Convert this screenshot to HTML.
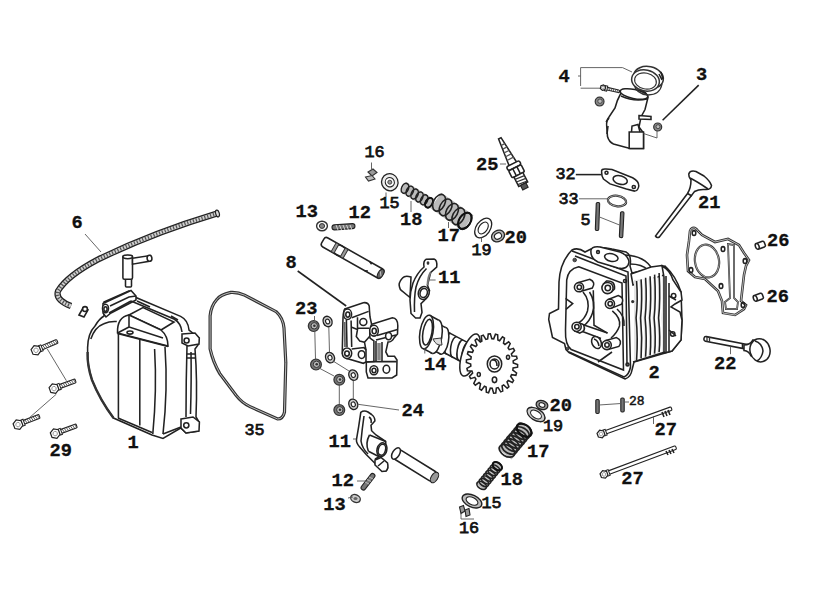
<!DOCTYPE html>
<html><head><meta charset="utf-8">
<style>
html,body{margin:0;padding:0;background:#fff;}
svg{display:block;}
text{font-family:"Liberation Mono",monospace;font-weight:bold;font-size:18.7px;fill:#111;stroke:#111;stroke-width:0.3;}
.l{stroke:#222;stroke-width:1.55;fill:none;}
.f{stroke:#222;stroke-width:1.55;fill:#fff;}
.t{stroke:#555;stroke-width:0.9;fill:none;}
text.r{font-weight:normal;font-size:16.8px;stroke-width:0.75;}
.d{stroke:#222;stroke-width:1.1;fill:#777;}
</style></head><body>
<svg width="823" height="600" viewBox="0 0 823 600">
<path d="M217,213.5 Q152,233 97,260 Q67,276 58,291 Q55,300 71,306" fill="none" stroke="#222" stroke-width="6.2"/>
<path d="M217,213.5 Q152,233 97,260 Q67,276 58,291 Q55,300 71,306" fill="none" stroke="#d0d0d0" stroke-width="3.6"/>
<path d="M217,213.5 Q152,233 97,260 Q67,276 58,291 Q55,300 71,306" fill="none" stroke="#555" stroke-width="3.6" stroke-dasharray="1.2 1.8"/>
<ellipse cx="217.5" cy="213.5" rx="1.8" ry="3.5" transform="rotate(-16 217.5 213.5)" fill="#ddd" stroke="#222" stroke-width="1.1"/>
<line x1="85" y1="234" x2="101" y2="252" class="t" stroke="#222"/>
<rect x="125.5" y="278" width="6" height="9" class="f" rx="1"/>
<rect x="122.9" y="255.5" width="9.6" height="23.7" rx="1.5" class="f"/>
<ellipse cx="127.7" cy="256.8" rx="4.8" ry="1.9" class="f"/>
<path d="M132.5,258.3 L150,255.6 L150.5,261 L132.5,264.2 Z" class="f"/>
<ellipse cx="149.5" cy="258.3" rx="2.4" ry="3" transform="rotate(-8 149.5 258.3)" class="f"/>
<path d="M79,315 L83,308 L88,310 L84,317 Z" class="f"/>
<circle cx="85" cy="309" r="2.4" class="f"/>
<path d="M104,302 L129,291 L136,297.5 L180.6,316.4 Q188,320 189,330 L199,338 L198,345 L195,349 Q197.5,380 196,417 L199,422 L198,431 L186,433 L180.7,428 L163,438.4 L152,435 L113.5,418 Q100,400 92,380 Q87,365 87.6,347.6 Q88,333 95,326 Q99,319 104,316 Z" class="f" stroke-width="1.7"/>
<path d="M87.6,352 Q87,365 92,380 Q100,400 113.5,418" fill="none" stroke="#333" stroke-width="2.4"/>
<path d="M90.8,339 Q95,327 103.8,323.8 Q110,321 116.8,321.6" class="l" stroke-width="1.2"/>
<path d="M103,303.5 L131,290.5 L136,296 L136,300 L111,313 L106,317 L103,313 Z" class="f"/>
<path d="M110,306 L129,297 L136,296 M109,313 L131,301" class="l"/>
<ellipse cx="105.5" cy="308.5" rx="3" ry="4.2" class="f"/>
<ellipse cx="105.5" cy="309" rx="1.6" ry="2.3" class="l" stroke-width="0.9"/>
<path d="M129,315 L143,307.5 L174,322 L161,330 Z" class="f"/>
<path d="M131,301 L174,319 Q181,323 182,332" class="l"/>
<path d="M137,301 L150,307" class="l" stroke-width="0.9"/>
<path d="M171,316 L178,320" class="l" stroke-width="0.9"/>
<path d="M117.5,333 Q117,317 129,315 L161,330 Q168,336 168,346 Z" class="f"/>
<path d="M129,315 L129,327 L163,338" class="l"/>
<line x1="117.5" y1="333" x2="129" y2="327" class="l"/>
<line x1="117.5" y1="333.5" x2="168" y2="346.5" class="l" stroke-width="1.4"/>
<ellipse cx="130" cy="332.5" rx="3" ry="1.6" class="f"/>
<line x1="118.4" y1="334" x2="118.4" y2="418" class="l" stroke-width="2"/>
<line x1="139.8" y1="340" x2="139.8" y2="425.5" class="l" stroke-width="2"/>
<path d="M154.6,349 Q157,390 152.8,434" class="l"/>
<path d="M165,347 Q168,390 163,434" class="l"/>
<path d="M187,346 Q186,380 186,417" class="l"/>
<path d="M191,352 Q191.5,380 190.5,414" class="l" stroke-width="0.9"/>
<path d="M187,354 L195,354 M187,358 L195,358" class="l" stroke-width="0.9"/>
<line x1="118" y1="418" x2="152" y2="432.5" class="l" stroke-width="0.9"/>
<path d="M182,334 L195,333 L199.3,338 L199,344 L188,346 L182,343 Z" class="f"/>
<circle cx="186.6" cy="340.5" r="2.5" class="f"/>
<path d="M181,419 L193,417 L199.4,422 L199,431 L186,433 L181,428 Z" class="f"/>
<circle cx="186.3" cy="425.3" r="2.6" class="f"/>
<line x1="163" y1="434" x2="181" y2="427" class="l"/>
<g transform="translate(36.0,350.3) rotate(-22.81)">
<rect x="0" y="-2.0" width="23.2" height="4.0" rx="1" fill="#fff" stroke="#222" stroke-width="1.1"/>
<line x1="8.0" y1="-2.0" x2="9.2" y2="2.0" stroke="#444" stroke-width="0.8"/>
<line x1="10.2" y1="-2.0" x2="11.4" y2="2.0" stroke="#444" stroke-width="0.8"/>
<line x1="12.4" y1="-2.0" x2="13.6" y2="2.0" stroke="#444" stroke-width="0.8"/>
<line x1="14.6" y1="-2.0" x2="15.8" y2="2.0" stroke="#444" stroke-width="0.8"/>
<line x1="16.8" y1="-2.0" x2="18.0" y2="2.0" stroke="#444" stroke-width="0.8"/>
<line x1="19.0" y1="-2.0" x2="20.2" y2="2.0" stroke="#444" stroke-width="0.8"/>
<line x1="21.2" y1="-2.0" x2="22.4" y2="2.0" stroke="#444" stroke-width="0.8"/>
<rect x="4.0" y="-3.2" width="2.5" height="6.4" fill="#fff" stroke="#222" stroke-width="1"/>
<polygon points="4.3,2.5 0.0,5.0 -4.3,2.5 -4.3,-2.5 -0.0,-5.0 4.3,-2.5" fill="#fff" stroke="#222" stroke-width="1.2"/>
<circle cx="0" cy="0" r="2.2" fill="none" stroke="#888" stroke-width="0.8"/>
</g>
<g transform="translate(54.0,388.6) rotate(-20.18)">
<rect x="0" y="-2.0" width="22.9" height="4.0" rx="1" fill="#fff" stroke="#222" stroke-width="1.1"/>
<line x1="8.0" y1="-2.0" x2="9.2" y2="2.0" stroke="#444" stroke-width="0.8"/>
<line x1="10.2" y1="-2.0" x2="11.4" y2="2.0" stroke="#444" stroke-width="0.8"/>
<line x1="12.4" y1="-2.0" x2="13.6" y2="2.0" stroke="#444" stroke-width="0.8"/>
<line x1="14.6" y1="-2.0" x2="15.8" y2="2.0" stroke="#444" stroke-width="0.8"/>
<line x1="16.8" y1="-2.0" x2="18.0" y2="2.0" stroke="#444" stroke-width="0.8"/>
<line x1="19.0" y1="-2.0" x2="20.2" y2="2.0" stroke="#444" stroke-width="0.8"/>
<line x1="21.2" y1="-2.0" x2="22.4" y2="2.0" stroke="#444" stroke-width="0.8"/>
<rect x="4.0" y="-3.2" width="2.5" height="6.4" fill="#fff" stroke="#222" stroke-width="1"/>
<polygon points="4.3,2.5 0.0,5.0 -4.3,2.5 -4.3,-2.5 -0.0,-5.0 4.3,-2.5" fill="#fff" stroke="#222" stroke-width="1.2"/>
<circle cx="0" cy="0" r="2.2" fill="none" stroke="#888" stroke-width="0.8"/>
</g>
<g transform="translate(18.0,424.6) rotate(-21.20)">
<rect x="0" y="-2.0" width="23.0" height="4.0" rx="1" fill="#fff" stroke="#222" stroke-width="1.1"/>
<line x1="8.0" y1="-2.0" x2="9.2" y2="2.0" stroke="#444" stroke-width="0.8"/>
<line x1="10.2" y1="-2.0" x2="11.4" y2="2.0" stroke="#444" stroke-width="0.8"/>
<line x1="12.4" y1="-2.0" x2="13.6" y2="2.0" stroke="#444" stroke-width="0.8"/>
<line x1="14.6" y1="-2.0" x2="15.8" y2="2.0" stroke="#444" stroke-width="0.8"/>
<line x1="16.8" y1="-2.0" x2="18.0" y2="2.0" stroke="#444" stroke-width="0.8"/>
<line x1="19.0" y1="-2.0" x2="20.2" y2="2.0" stroke="#444" stroke-width="0.8"/>
<line x1="21.2" y1="-2.0" x2="22.4" y2="2.0" stroke="#444" stroke-width="0.8"/>
<rect x="4.0" y="-3.2" width="2.5" height="6.4" fill="#fff" stroke="#222" stroke-width="1"/>
<polygon points="4.3,2.5 0.0,5.0 -4.3,2.5 -4.3,-2.5 -0.0,-5.0 4.3,-2.5" fill="#fff" stroke="#222" stroke-width="1.2"/>
<circle cx="0" cy="0" r="2.2" fill="none" stroke="#888" stroke-width="0.8"/>
</g>
<g transform="translate(55.2,433.6) rotate(-20.26)">
<rect x="0" y="-2.0" width="22.8" height="4.0" rx="1" fill="#fff" stroke="#222" stroke-width="1.1"/>
<line x1="8.0" y1="-2.0" x2="9.2" y2="2.0" stroke="#444" stroke-width="0.8"/>
<line x1="10.2" y1="-2.0" x2="11.4" y2="2.0" stroke="#444" stroke-width="0.8"/>
<line x1="12.4" y1="-2.0" x2="13.6" y2="2.0" stroke="#444" stroke-width="0.8"/>
<line x1="14.6" y1="-2.0" x2="15.8" y2="2.0" stroke="#444" stroke-width="0.8"/>
<line x1="16.8" y1="-2.0" x2="18.0" y2="2.0" stroke="#444" stroke-width="0.8"/>
<line x1="19.0" y1="-2.0" x2="20.2" y2="2.0" stroke="#444" stroke-width="0.8"/>
<line x1="21.2" y1="-2.0" x2="22.4" y2="2.0" stroke="#444" stroke-width="0.8"/>
<rect x="4.0" y="-3.2" width="2.5" height="6.4" fill="#fff" stroke="#222" stroke-width="1"/>
<polygon points="4.3,2.5 0.0,5.0 -4.3,2.5 -4.3,-2.5 -0.0,-5.0 4.3,-2.5" fill="#fff" stroke="#222" stroke-width="1.2"/>
<circle cx="0" cy="0" r="2.2" fill="none" stroke="#888" stroke-width="0.8"/>
</g>
<line x1="47.3" y1="349" x2="66.4" y2="380.7" class="t" stroke="#888"/>
<line x1="56.3" y1="394.2" x2="29.3" y2="417.8" class="t" stroke="#888"/>
<path d="M230.8,292.4 Q220,295 217,299.3 Q211,306 210.1,315.8 L210.1,348.8 Q213,362 219.8,373.6 L236.3,395.6 Q242,403 250,406.6 L277.6,419 Q283,419 284.5,412.1 L285.8,362.6 L284,328 Q283,318 276.2,311.7 L244.5,295.1 Q238,292 230.8,292.4 Z" fill="none" stroke="#333" stroke-width="3.2"/>
<path d="M230.8,292.4 Q220,295 217,299.3 Q211,306 210.1,315.8 L210.1,348.8 Q213,362 219.8,373.6 L236.3,395.6 Q242,403 250,406.6 L277.6,419 Q283,419 284.5,412.1 L285.8,362.6 L284,328 Q283,318 276.2,311.7 L244.5,295.1 Q238,292 230.8,292.4 Z" fill="none" stroke="#bbb" stroke-width="1"/>
<path d="M344.7,309 L363.3,302.7 Q368,302 369.2,306 L369.5,311 L370,317 L372,326 L370,336 L364.5,342.3 L366,350 L366,362 L363.3,363.3 L347,358.6 Q342,356 342.3,351 L342.9,321.3 Q343,312 344.7,309 Z" class="f" stroke-width="1.3"/>
<path d="M351.7,317.8 L368.6,311.4" class="l"/>
<path d="M357.5,317.2 L357.5,328.3 L369.2,328.3" class="l" stroke-width="1"/>
<ellipse cx="363.3" cy="321.9" rx="3.5" ry="3.5" class="f"/>
<ellipse cx="347.6" cy="314.3" rx="4" ry="5.2" class="f"/>
<ellipse cx="347.8" cy="314.6" rx="2" ry="2.6" class="l" stroke-width="0.9"/>
<path d="M346.4,320 L347,347 M351.1,320.5 L351.7,347" class="l" stroke-width="1"/>
<path d="M344.7,322 L345,347" stroke="#666" stroke-width="1.8"/>
<path d="M351.7,327.2 L357.5,329.5 L356.3,336.5 L359.8,341.1 L364.5,342.3" class="l"/>
<path d="M351.7,349 L364,347.5 L366,350" class="l" stroke-width="1"/>
<ellipse cx="347" cy="353.3" rx="4.7" ry="5.3" class="f"/>
<ellipse cx="347" cy="353.5" rx="2.3" ry="2.6" class="l" stroke-width="0.9"/>
<ellipse cx="361.6" cy="354.6" rx="3.3" ry="3.9" class="f"/>
<path d="M371.8,324.2 L392.4,317.7 Q397.8,318 397.8,325.8 L397.5,334 L394,338 Q392,342 388,342.1 L385.8,351.9 L388,356.2 L394.5,356.2 L397,360 L396.7,375 L392,377.9 L368,377.9 L366.3,372 L366.3,362 L373.9,361.6 L373.9,341 L370,338 Q369,328 371.8,324.2 Z" class="f" stroke-width="1.3"/>
<path d="M377,335.5 L397.5,329.5" class="l"/>
<path d="M376,340 L396,335" class="l" stroke-width="0.9"/>
<ellipse cx="388.6" cy="336.1" rx="3" ry="3.6" class="f"/>
<ellipse cx="374" cy="330.7" rx="4.3" ry="5.4" class="f"/>
<ellipse cx="374.2" cy="331" rx="2.1" ry="2.7" class="l" stroke-width="0.9"/>
<path d="M376,341 L376,361.6 M382,342 L382,361.6" class="l" stroke-width="1"/>
<path d="M379,343 L379,360" stroke="#888" stroke-width="3.5"/>
<path d="M366.3,362 L373.9,361.6 L396.7,361.6" class="l" stroke-width="1"/>
<ellipse cx="373.9" cy="370.3" rx="4" ry="4.5" class="f"/>
<ellipse cx="374" cy="370.5" rx="2" ry="2.2" class="l" stroke-width="0.9"/>
<ellipse cx="386.4" cy="369.2" rx="3.3" ry="4" class="f"/>
<line x1="297.7" y1="271" x2="346.2" y2="306" class="l" stroke-width="1.1"/>
<circle cx="313.7" cy="326.1" r="5.4" fill="#777" stroke="#333" stroke-width="1.2"/><circle cx="314.2" cy="325.8" r="3.2" fill="#bbb" stroke="#333" stroke-width="1"/><circle cx="314.4" cy="325.8" r="1.3" fill="#333"/>
<circle cx="316" cy="364.6" r="5.4" fill="#777" stroke="#333" stroke-width="1.2"/><circle cx="316.5" cy="364.3" r="3.2" fill="#bbb" stroke="#333" stroke-width="1"/><circle cx="316.7" cy="364.3" r="1.3" fill="#333"/>
<circle cx="339.3" cy="379.8" r="5.4" fill="#777" stroke="#333" stroke-width="1.2"/><circle cx="339.8" cy="379.5" r="3.2" fill="#bbb" stroke="#333" stroke-width="1"/><circle cx="340.0" cy="379.5" r="1.3" fill="#333"/>
<circle cx="339.3" cy="410.1" r="5.4" fill="#777" stroke="#333" stroke-width="1.2"/><circle cx="339.8" cy="409.8" r="3.2" fill="#bbb" stroke="#333" stroke-width="1"/><circle cx="340.0" cy="409.8" r="1.3" fill="#333"/>
<g transform="translate(327.6,321.5) rotate(-25)"><ellipse rx="4.4" ry="5.4" fill="#ccc" stroke="#222" stroke-width="1.3"/><ellipse rx="2.0" ry="2.4" fill="#fff" stroke="#222" stroke-width="1.1"/></g>
<g transform="translate(330,357.6) rotate(-25)"><ellipse rx="4.4" ry="5.4" fill="#ccc" stroke="#222" stroke-width="1.3"/><ellipse rx="2.0" ry="2.4" fill="#fff" stroke="#222" stroke-width="1.1"/></g>
<g transform="translate(353.3,375.1) rotate(-25)"><ellipse rx="4.4" ry="5.4" fill="#ccc" stroke="#222" stroke-width="1.3"/><ellipse rx="2.0" ry="2.4" fill="#fff" stroke="#222" stroke-width="1.1"/></g>
<g transform="translate(353.3,404.3) rotate(-25)"><ellipse rx="4.4" ry="5.4" fill="#ccc" stroke="#222" stroke-width="1.3"/><ellipse rx="2.0" ry="2.4" fill="#fff" stroke="#222" stroke-width="1.1"/></g>
<path d="M314.8,331.5 L315.5,359 M328.8,327 L329.5,352.5 M319,368 L334,376 M333,361 L349,371 M339.3,385 L339.3,404.5 M353.3,380.5 L353.3,399" class="t"/>
<line x1="358" y1="404.3" x2="399" y2="410" class="t" stroke="#333"/>
<line x1="314.5" y1="316" x2="314.5" y2="321" class="t"/>
<g transform="translate(324.5,242) rotate(29.5)"><rect x="-2" y="-5.2" width="68.5" height="10.4" rx="3" class="f"/><rect x="10.5" y="-5" width="3.2" height="10" fill="#999" stroke="#333" stroke-width="1"/><rect x="21" y="-5" width="3.2" height="10" fill="#999" stroke="#333" stroke-width="1"/><path d="M13.7,-4.6 Q17,-5.8 21,-4.6 M13.7,4.6 Q17,5.8 21,4.6" class="l" stroke-width="0.9"/><path d="M49,-5.2 L52,-3.8 M49,5.2 L52,3.8" class="l" stroke-width="1"/><ellipse cx="64.5" cy="0" rx="2.6" ry="5" fill="#666" stroke="#222" stroke-width="1.1"/><path d="M63,-2 L66,2" stroke="#ccc" stroke-width="0.8"/></g>
<path d="M411,277 Q405,275 402.5,278 Q398,283 399.5,287 Q400,290 402,291 L410,297.5 Z" class="f"/>
<path d="M424,267 Q417,273 413,283 Q410,292 410,300 L411,313.5 L415.6,318 L420,318 L422,312.4 L421,303.7 Q428,298 429.6,290.7 L427.5,285.3 L430.7,272.3 L436.7,267 Q437.5,260 434,259 L426,259.3 Q423,261 424,267 Z" class="f"/>
<path d="M426.5,268.5 Q419,276 416,287 Q414,297 414.5,312" class="l" stroke-width="0.9"/>
<path d="M430.7,272.3 Q428,276 427.5,285.3" stroke="#777" stroke-width="2" fill="none"/>
<ellipse cx="423.7" cy="293" rx="5.4" ry="6.6" transform="rotate(15 423.7 293)" class="f"/>
<ellipse cx="423.7" cy="293" rx="3.6" ry="4.6" transform="rotate(15 423.7 293)" class="l" stroke-width="1"/>
<ellipse cx="428" cy="263.1" rx="1.4" ry="1.8" fill="#333"/>
<line x1="429.6" y1="280" x2="435.6" y2="280" class="t"/>
<ellipse cx="470.6" cy="355.5" rx="4.0" ry="10.5" transform="rotate(10 470.6 355.5)" class="f" stroke-width="1.5"/>
<path d="M445.1,330.6 L472.5,345.1 L468.8,365.8 L441.5,351.3 Z" fill="#fff" stroke="none"/>
<path d="M445.1,330.6 L472.5,345.1 M441.5,351.3 L468.8,365.8" class="l" stroke-width="1.5"/>
<path d="M450.4,333.4 A4.0,10.5 10 0 0 446.8,354.1" class="l" stroke-width="1.2"/>
<path d="M456.6,336.7 A4.0,10.5 10 0 0 452.9,357.4" class="l" stroke-width="1.2"/>
<path d="M462.8,340.0 A4.0,10.5 10 0 0 459.1,360.6" class="l" stroke-width="1.2"/>
<path d="M468.1,342.8 A4.0,10.5 10 0 0 464.4,363.5" class="l" stroke-width="1.2"/>
<ellipse cx="443.3" cy="340.9" rx="5.1" ry="13.5" transform="rotate(10 443.3 340.9)" class="f" stroke-width="1.5"/>
<path d="M437.7,323.4 L445.6,327.6 L440.9,354.2 L433.0,350.0 Z" fill="#fff" stroke="none"/>
<path d="M437.7,323.4 L445.6,327.6 M433.0,350.0 L440.9,354.2" class="l" stroke-width="1.5"/>
<path d="M441.2,325.3 A5.1,13.5 10 0 0 436.5,351.9" class="l" stroke-width="1.2"/>
<ellipse cx="435.3" cy="336.7" rx="6.5" ry="17.0" transform="rotate(10 435.3 336.7)" class="f" stroke-width="1.5"/>
<path d="M429.5,315.3 L438.3,320.0 L432.4,353.4 L423.5,348.7 Z" fill="#fff" stroke="none"/>
<path d="M429.5,315.3 L438.3,320.0 M423.5,348.7 L432.4,353.4" class="l" stroke-width="1.5"/>
<ellipse cx="426.5" cy="332.0" rx="6.5" ry="17.0" transform="rotate(10 426.5 332.0)" class="f" stroke-width="1.5"/>
<ellipse cx="427.5" cy="332.0" rx="4.5" ry="13" transform="rotate(10 426.5 332.0)" class="l" stroke-width="1"/>
<path d="M433,339 Q436,346 442,345 L441,338 Z" fill="#ddd" stroke="#333" stroke-width="1"/>
<ellipse cx="470" cy="355" rx="8" ry="22" transform="rotate(18 470 355)" class="f"/>
<path transform="translate(492,363.5) rotate(-8)" d="M21.2,2.5 L25.2,4.7 L24.8,7.2 L20.3,7.4 L19.7,9.4 L23.0,12.8 L22.0,15.0 L17.8,13.8 L16.7,15.5 L19.0,19.9 L17.5,21.7 L13.7,19.1 L12.3,20.4 L13.5,25.3 L11.6,26.6 L8.6,22.8 L6.9,23.6 L6.8,28.7 L4.7,29.3 L2.7,24.7 L0.9,24.9 L-0.4,29.8 L-2.5,29.7 L-3.3,24.6 L-5.1,24.2 L-7.5,28.5 L-9.6,27.6 L-9.1,22.5 L-10.7,21.5 L-14.1,24.9 L-15.9,23.4 L-14.2,18.6 L-15.5,17.1 L-19.5,19.2 L-20.8,17.2 L-18.1,13.2 L-19.0,11.3 L-23.3,12.0 L-24.1,9.6 L-20.5,6.7 L-20.9,4.6 L-25.3,3.8 L-25.5,1.3 L-21.3,-0.4 L-21.2,-2.5 L-25.2,-4.7 L-24.8,-7.2 L-20.3,-7.4 L-19.7,-9.4 L-23.0,-12.8 L-22.0,-15.0 L-17.8,-13.8 L-16.7,-15.5 L-19.0,-19.9 L-17.5,-21.7 L-13.7,-19.1 L-12.3,-20.4 L-13.5,-25.3 L-11.6,-26.6 L-8.6,-22.8 L-6.9,-23.6 L-6.8,-28.7 L-4.7,-29.3 L-2.7,-24.7 L-0.9,-24.9 L0.4,-29.8 L2.5,-29.7 L3.3,-24.6 L5.1,-24.2 L7.5,-28.5 L9.6,-27.6 L9.1,-22.5 L10.7,-21.5 L14.1,-24.9 L15.9,-23.4 L14.2,-18.6 L15.5,-17.1 L19.5,-19.2 L20.8,-17.2 L18.1,-13.2 L19.0,-11.3 L23.3,-12.0 L24.1,-9.6 L20.5,-6.7 L20.9,-4.6 L25.3,-3.8 L25.5,-1.3 L21.3,0.4 Z" class="f"/>
<ellipse cx="494.5" cy="364" rx="7.2" ry="8" class="f"/>
<ellipse cx="494.5" cy="364" rx="4.5" ry="5" class="f"/>
<path d="M492,360 Q497,359 497,366" class="l" stroke-width="0.9"/>
<ellipse cx="508" cy="357.3" rx="1.5" ry="2" class="l"/>
<ellipse cx="478.8" cy="374.5" rx="1.5" ry="2" class="l"/>
<ellipse cx="494.5" cy="379.8" rx="2.2" ry="2.8" class="l"/>
<line x1="424.8" y1="348" x2="424.8" y2="353.5" class="t"/>
<g transform="translate(417.0,195.5) rotate(31.0)">
<rect x="-16.5" y="-5.8" width="32.9" height="11.5" fill="#bbb" stroke="none"/>
<ellipse cx="-14.0" cy="0" rx="3.4" ry="5.2" transform="rotate(-8 -14.0 0)" fill="none" stroke="#222" stroke-width="1.5"/>
<ellipse cx="-8.4" cy="0" rx="3.4" ry="5.2" transform="rotate(-8 -8.4 0)" fill="none" stroke="#222" stroke-width="1.5"/>
<ellipse cx="-2.8" cy="0" rx="3.4" ry="5.2" transform="rotate(-8 -2.8 0)" fill="none" stroke="#222" stroke-width="1.5"/>
<ellipse cx="2.8" cy="0" rx="3.4" ry="5.2" transform="rotate(-8 2.8 0)" fill="none" stroke="#222" stroke-width="1.5"/>
<ellipse cx="8.4" cy="0" rx="3.4" ry="5.2" transform="rotate(-8 8.4 0)" fill="none" stroke="#222" stroke-width="1.5"/>
<ellipse cx="14.0" cy="0" rx="3.4" ry="5.2" transform="rotate(-8 14.0 0)" fill="none" stroke="#222" stroke-width="1.5"/>
<ellipse cx="14.0" cy="0" rx="3.4" ry="5.2" fill="none" stroke="#111" stroke-width="1.9"/>
</g>
<g transform="translate(452.0,211.8) rotate(35.0)">
<rect x="-19.7" y="-9.5" width="39.3" height="19.0" fill="#bbb" stroke="none"/>
<ellipse cx="-15.7" cy="0" rx="5.7" ry="8.9" transform="rotate(-8 -15.7 0)" fill="none" stroke="#222" stroke-width="1.6"/>
<ellipse cx="-7.8" cy="0" rx="5.7" ry="8.9" transform="rotate(-8 -7.8 0)" fill="none" stroke="#222" stroke-width="1.6"/>
<ellipse cx="0.0" cy="0" rx="5.7" ry="8.9" transform="rotate(-8 0.0 0)" fill="none" stroke="#222" stroke-width="1.6"/>
<ellipse cx="7.8" cy="0" rx="5.7" ry="8.9" transform="rotate(-8 7.8 0)" fill="none" stroke="#222" stroke-width="1.6"/>
<ellipse cx="15.7" cy="0" rx="5.7" ry="8.9" transform="rotate(-8 15.7 0)" fill="none" stroke="#222" stroke-width="1.6"/>
<ellipse cx="15.7" cy="0" rx="5.7" ry="8.9" fill="none" stroke="#111" stroke-width="2.0"/>
</g>
<g transform="translate(389.8,182.2) rotate(-20)"><ellipse rx="8.2" ry="8.6" fill="#eee" stroke="#222" stroke-width="1.3"/><ellipse rx="4.5" ry="4.7" fill="#fff" stroke="#222" stroke-width="1.1"/></g>
<circle cx="389.8" cy="182.2" r="2" fill="#999" stroke="#444" stroke-width="1"/>
<g transform="translate(483.2,228) rotate(-55)"><ellipse rx="11" ry="7" fill="#fff" stroke="#222" stroke-width="1.3"/><ellipse rx="6.6" ry="4.2" fill="#fff" stroke="#222" stroke-width="1.1"/></g>
<g transform="translate(498,236) rotate(-30)"><ellipse rx="6.8" ry="5.5" fill="#bbb" stroke="#222" stroke-width="1.3"/><ellipse rx="3.7" ry="3.0" fill="#fff" stroke="#222" stroke-width="1.1"/></g>
<path d="M368,172 L373,169 L377,172.5 L372,176 Z" fill="#999" stroke="#333" stroke-width="1.1"/>
<path d="M365.5,177 L372,175.5 L375,179 L368.5,181 Z" fill="#bbb" stroke="#333" stroke-width="1.1"/>
<line x1="371.5" y1="162.5" x2="371.5" y2="169" class="t"/>
<line x1="386" y1="192.5" x2="386" y2="197" class="t"/>
<line x1="411" y1="201" x2="411" y2="212" class="t" stroke="#aaa" stroke-width="1.2"/>
<line x1="448.5" y1="222" x2="448.5" y2="228" class="t"/>
<line x1="481.5" y1="237.5" x2="481.5" y2="242" class="t"/>
<ellipse cx="322" cy="226" rx="5.4" ry="4.8" fill="#fff" stroke="#333" stroke-width="1.4"/><ellipse cx="322" cy="226" rx="2.6" ry="2.4" fill="#888" stroke="#333" stroke-width="1"/>
<ellipse cx="332.9" cy="227" rx="0" ry="0"/>
<rect transform="translate(332.0,227.5) rotate(-3.73)" x="0" y="-2.5" width="23.0" height="5.0" rx="2.5" class="d"/>
<path d="M336,225 L338,230 M339.5,225 L341.5,230 M343,225 L345,230 M346.5,225 L348.5,230 M350,225 L352,230" stroke="#ddd" stroke-width="0.9"/>
<g transform="translate(499.8,138.3) rotate(-27)"><path d="M-1.4,0 L1.4,0 L4.2,29 L-4.2,29 Z" class="f" stroke-width="1.2"/><path d="M-1.8,7 L2,7 M-2.3,11 L2.6,11 M-2.8,15 L3.2,15 M-3.3,19 L3.6,19 M-3.8,23 L4.1,23" stroke="#555" stroke-width="1.3"/><rect x="-7.2" y="28.5" width="14.4" height="4.5" rx="2" class="f"/><rect x="-7" y="33" width="14" height="8" rx="1.5" class="f"/><path d="M-2.3,33 L-2.3,41 M2.3,33 L2.3,41" class="l" stroke-width="0.8"/><rect x="-5" y="41" width="10" height="10.5" class="f"/><path d="M-5,43.5 L5,44.5 M-5,46.5 L5,47.5 M-5,49.5 L5,50.5" stroke="#333" stroke-width="1.2"/><rect x="-3" y="51.5" width="6" height="5" fill="#555" stroke="#222" stroke-width="1.1"/></g>
<line x1="500" y1="164" x2="506" y2="164" class="t"/>
<rect transform="translate(395.0,453.0) rotate(31.69)" x="0" y="-5.5" width="47.6" height="11.0" rx="4.0" class="f"/>
<ellipse cx="396" cy="453.5" rx="3.5" ry="6.3" transform="rotate(32 396 453.5)" class="f"/>
<ellipse cx="434.5" cy="477.5" rx="3.3" ry="5.8" transform="rotate(32 434.5 477.5)" fill="#999" stroke="#222" stroke-width="1.1"/>
<path d="M360.8,412.3 Q364,410 368,412 L371.6,414.5 Q375,417 374.9,421 L371,425.3 L371.6,430.7 L376,435 L385.7,441.5 L386,452 L379.2,456.7 L376,458.5 L386,464 Q389,468 386,471 L382,471 L374.9,463.2 L366.2,454.5 L359.7,447 Q356,443 356.5,439.4 L358.7,426.4 Z" class="f" stroke-width="1.3"/>
<path d="M364,416 Q362,430 361,441 Q362,448 368,454" class="l" stroke-width="0.9"/>
<path d="M369.5,435 L385.7,441.5 M368.4,451.3 L379.2,456.7" class="l"/>
<path d="M369.5,435 Q365,443 368.4,451.3" class="l" stroke-width="1"/>
<ellipse cx="381.9" cy="449.7" rx="4.9" ry="7" transform="rotate(15 381.9 449.7)" class="f"/>
<ellipse cx="381.9" cy="449.7" rx="3.6" ry="5.6" transform="rotate(15 381.9 449.7)" class="l" stroke-width="0.9"/>
<path d="M375,460 L381,457.5 L387.5,463 Q389,468 386,471 L382,471.5 L375,465 Z" class="f"/>
<path d="M378,466 L384,461" class="l" stroke-width="0.9"/>
<path d="M369,417 Q372,419 371,423" class="l" stroke-width="0.9"/>
<line x1="353" y1="439" x2="356" y2="439" class="t"/>
<rect transform="translate(374.0,474.0) rotate(127.75)" x="0" y="-2.3" width="19.6" height="4.6" rx="2.3" class="d"/>
<path d="M365,482 L369,484 M367,479.5 L371,481.5 M369,477 L373,479" stroke="#ccc" stroke-width="0.8"/>
<line x1="357" y1="481" x2="366" y2="481" class="t" stroke="#333"/>
<ellipse cx="355.5" cy="498.5" rx="5" ry="3.8" transform="rotate(25 355.5 498.5)" fill="#ccc" stroke="#333" stroke-width="1.3"/><ellipse cx="355.5" cy="498.5" rx="2" ry="1.5" fill="#666"/>
<line x1="348" y1="498" x2="353" y2="497" class="t"/>
<g transform="translate(542,405) rotate(20)"><ellipse rx="6" ry="4.5" fill="#999" stroke="#222" stroke-width="1.3"/><ellipse rx="3.0" ry="2.2" fill="#fff" stroke="#222" stroke-width="1.1"/></g>
<g transform="translate(536,414.5) rotate(32)"><ellipse rx="10" ry="5.8" fill="#ccc" stroke="#222" stroke-width="1.3"/><ellipse rx="6.0" ry="3.5" fill="#fff" stroke="#222" stroke-width="1.1"/></g>
<g transform="translate(515.5,440.5) rotate(-50.4)">
<rect x="-17.2" y="-9.0" width="34.4" height="18.0" fill="#bbb" stroke="none"/>
<ellipse cx="-13.4" cy="0" rx="5.4" ry="8.4" transform="rotate(-8 -13.4 0)" fill="none" stroke="#222" stroke-width="1.7"/>
<ellipse cx="-9.6" cy="0" rx="5.4" ry="8.4" transform="rotate(-8 -9.6 0)" fill="none" stroke="#222" stroke-width="1.7"/>
<ellipse cx="-5.8" cy="0" rx="5.4" ry="8.4" transform="rotate(-8 -5.8 0)" fill="none" stroke="#222" stroke-width="1.7"/>
<ellipse cx="-1.9" cy="0" rx="5.4" ry="8.4" transform="rotate(-8 -1.9 0)" fill="none" stroke="#222" stroke-width="1.7"/>
<ellipse cx="1.9" cy="0" rx="5.4" ry="8.4" transform="rotate(-8 1.9 0)" fill="none" stroke="#222" stroke-width="1.7"/>
<ellipse cx="5.8" cy="0" rx="5.4" ry="8.4" transform="rotate(-8 5.8 0)" fill="none" stroke="#222" stroke-width="1.7"/>
<ellipse cx="9.6" cy="0" rx="5.4" ry="8.4" transform="rotate(-8 9.6 0)" fill="none" stroke="#222" stroke-width="1.7"/>
<ellipse cx="13.4" cy="0" rx="5.4" ry="8.4" transform="rotate(-8 13.4 0)" fill="none" stroke="#222" stroke-width="1.7"/>
<ellipse cx="13.4" cy="0" rx="5.4" ry="8.4" fill="none" stroke="#111" stroke-width="2.1"/>
</g>
<g transform="translate(489.5,475.8) rotate(-50.8)">
<rect x="-14.8" y="-5.8" width="29.6" height="11.5" fill="#bbb" stroke="none"/>
<ellipse cx="-12.4" cy="0" rx="3.4" ry="5.2" transform="rotate(-8 -12.4 0)" fill="none" stroke="#222" stroke-width="1.6"/>
<ellipse cx="-8.8" cy="0" rx="3.4" ry="5.2" transform="rotate(-8 -8.8 0)" fill="none" stroke="#222" stroke-width="1.6"/>
<ellipse cx="-5.3" cy="0" rx="3.4" ry="5.2" transform="rotate(-8 -5.3 0)" fill="none" stroke="#222" stroke-width="1.6"/>
<ellipse cx="-1.8" cy="0" rx="3.4" ry="5.2" transform="rotate(-8 -1.8 0)" fill="none" stroke="#222" stroke-width="1.6"/>
<ellipse cx="1.8" cy="0" rx="3.4" ry="5.2" transform="rotate(-8 1.8 0)" fill="none" stroke="#222" stroke-width="1.6"/>
<ellipse cx="5.3" cy="0" rx="3.4" ry="5.2" transform="rotate(-8 5.3 0)" fill="none" stroke="#222" stroke-width="1.6"/>
<ellipse cx="8.8" cy="0" rx="3.4" ry="5.2" transform="rotate(-8 8.8 0)" fill="none" stroke="#222" stroke-width="1.6"/>
<ellipse cx="12.4" cy="0" rx="3.4" ry="5.2" transform="rotate(-8 12.4 0)" fill="none" stroke="#222" stroke-width="1.6"/>
<ellipse cx="12.4" cy="0" rx="3.4" ry="5.2" fill="none" stroke="#111" stroke-width="2.0"/>
</g>
<g transform="translate(472,501) rotate(25)"><ellipse rx="10.5" ry="6" fill="#bbb" stroke="#222" stroke-width="1.3"/><ellipse rx="6.3" ry="3.6" fill="#fff" stroke="#222" stroke-width="1.1"/></g>
<path d="M459.5,507 L463.5,505.5 L465,511 L461,513.5 Z" fill="#999" stroke="#222" stroke-width="1.1"/>
<path d="M465,510 L469,508.5 L470,515 L466,516.5 Z" fill="#999" stroke="#222" stroke-width="1.1"/>
<path d="M461,513 L461,519 L474,519" class="t"/>
<path d="M572,250 Q578,247 585,252 L591,249 Q600,246 612,249 L626,252 Q632,255 630,266 L632,273 L656,268 L665,266 Q676,276 681,292 L682,320 L681,340 L672,351 L634,362 L632,370 Q631,377 625,379 L569,352.5 L566,349.5 L564.5,343.5 L552.5,337.5 L548.7,319.5 L549.5,313.5 L558.5,309 L559,282 Q560,262 572,250 Z" class="f" stroke-width="1.4"/>
<path d="M572,251 L628,272 L630.5,367 Q629,375 624,377 L569,352" class="l" stroke-width="1.3"/>
<path d="M575,256 L626,276 L627,366" class="l" stroke-width="0.9"/>
<path d="M578.7,266.7 L622,283 L623.5,370 L571.2,349.5 Q565,345 565.5,330 L566.7,280 Q568,269 578.7,266.7 Z" class="f" stroke-width="1.2"/>
<path d="M591,250 Q590,258 598,262 L618,268 Q628,270 629,262 Q628,255 620,252 L600,247 Q592,246 591,250 Z" class="f"/>
<ellipse cx="611.3" cy="257.5" rx="6.8" ry="3.8" transform="rotate(12 611.3 257.5)" class="f"/>
<circle cx="598" cy="252" r="1.4" class="l"/>
<circle cx="574.7" cy="260" r="1.8" fill="#555" stroke="#222" stroke-width="0.8"/>
<circle cx="567.5" cy="348.7" r="1.5" fill="#555" stroke="#222" stroke-width="0.8"/>
<circle cx="627.5" cy="364.5" r="1.5" class="l"/>
<circle cx="625" cy="281" r="1.5" class="l"/>
<path d="M583,292 Q590,300 587.5,311 Q585,319 578.5,323" class="l" stroke-width="1.3"/>
<path d="M589.5,292 Q596,302 592.5,313 Q590,321 583.5,326" class="l" stroke-width="1.1"/>
<path d="M593.3,290.3 L594,325.2 L607.5,333.1" class="l" stroke-width="1.2"/>
<path d="M612.3,310.9 Q621,318 619.5,326 Q617,333 611,338" class="l" stroke-width="1.2"/>
<path d="M617,309 Q625,316 624,326" class="l" stroke-width="0.9"/>
<path d="M581,324 L607.5,333 M582.5,331.5 L601,338.5" class="l" stroke-width="1.2"/>
<ellipse cx="596.5" cy="342.5" rx="4.6" ry="6.3" transform="rotate(-25 596.5 342.5)" class="f" stroke-width="1.2"/>
<path d="M594,339 Q598,340 599,346" class="l" stroke-width="0.9"/>
<path d="M580.3,291.6 L592.3,288.1 Q596.3,282.2 589.7,279.3 L577.7,282.8 Z" class="f" stroke-width="1.2"/>
<circle cx="579" cy="287.2" r="4.6" class="f" stroke-width="1.3"/>
<circle cx="579.3" cy="287.2" r="2.2" class="l" stroke-width="1.2"/>
<path d="M611.5,292.0 L614.5,289.0 Q615.3,280.2 606.5,281.0 L603.5,284.0 Z" class="f" stroke-width="1.2"/>
<circle cx="607.5" cy="288" r="5.6" class="f" stroke-width="1.3"/>
<circle cx="607.8" cy="288.0" r="2.7" class="l" stroke-width="1.2"/>
<path d="M611.6,308.1 L621.6,304.1 Q625.0,297.7 618.2,295.5 L608.2,299.5 Z" class="f" stroke-width="1.2"/>
<circle cx="609.9" cy="303.8" r="4.6" class="f" stroke-width="1.3"/>
<circle cx="610.2" cy="303.8" r="2.2" class="l" stroke-width="1.2"/>
<path d="M574.9,331.1 L579.9,333.1 Q586.7,330.9 583.3,324.5 L578.3,322.5 Z" class="f" stroke-width="1.2"/>
<circle cx="576.6" cy="326.8" r="4.6" class="f" stroke-width="1.3"/>
<circle cx="576.9" cy="326.8" r="2.2" class="l" stroke-width="1.2"/>
<path d="M607.9,349.4 L618.9,346.4 Q623.0,340.5 616.5,337.6 L605.5,340.6 Z" class="f" stroke-width="1.2"/>
<circle cx="606.7" cy="345" r="4.6" class="f" stroke-width="1.3"/>
<circle cx="607.0" cy="345.0" r="2.2" class="l" stroke-width="1.2"/>
<path d="M565.5,298.3 L572.7,303.5 L566,309.3" class="l" stroke-width="1.2"/>
<path d="M598,362 L612,352" class="l" stroke-width="0.9"/>
<path d="M625,255 Q645,256 652,269" class="l" stroke-width="1.3"/>
<path d="M630,264 Q642,264 648,270" class="l" stroke-width="0.9"/>
<path d="M631,274 L651,267 L662,265.5 Q668,268 670,273 L646,281 L633,285 Z" class="f"/>
<path d="M634,280 L634,360 L664,352 L665,277" fill="#e4e4e4" stroke="none"/>
<path d="M638,281.0 Q639.5,300 637.5,318 Q639.5,338 638,360.0" fill="none" stroke="#fff" stroke-width="2.6"/>
<path d="M636.6,281.0 Q638.1,300 636.1,318 Q638.1,338 636.6,360.0" class="l" stroke-width="1.3"/>
<path d="M642.5,279.4 Q644.0,300 642.0,318 Q644.0,338 642.5,358.4" fill="none" stroke="#fff" stroke-width="2.6"/>
<path d="M641.1,279.4 Q642.6,300 640.6,318 Q642.6,338 641.1,358.4" class="l" stroke-width="1.3"/>
<path d="M647,277.8 Q648.5,300 646.5,318 Q648.5,338 647,356.8" fill="none" stroke="#fff" stroke-width="2.6"/>
<path d="M645.6,277.8 Q647.1,300 645.1,318 Q647.1,338 645.6,356.8" class="l" stroke-width="1.3"/>
<path d="M651.5,276.2 Q653.0,300 651.0,318 Q653.0,338 651.5,355.2" fill="none" stroke="#fff" stroke-width="2.6"/>
<path d="M650.1,276.2 Q651.6,300 649.6,318 Q651.6,338 650.1,355.2" class="l" stroke-width="1.3"/>
<path d="M656,274.6 Q657.5,300 655.5,318 Q657.5,338 656,353.6" fill="none" stroke="#fff" stroke-width="2.6"/>
<path d="M654.6,274.6 Q656.1,300 654.1,318 Q656.1,338 654.6,353.6" class="l" stroke-width="1.3"/>
<path d="M660.5,273.0 Q662.0,300 660.0,318 Q662.0,338 660.5,352.0" fill="none" stroke="#fff" stroke-width="2.6"/>
<path d="M659.1,273.0 Q660.6,300 658.6,318 Q660.6,338 659.1,352.0" class="l" stroke-width="1.3"/>
<path d="M662,266 Q670,270 673,280 L681,292 L682,300 L675,304 L671,307 L680,312 L682,320 L681,340 L672,351 L664,353 L664,277 Z" class="f"/>
<path d="M666,276 L666,352 M669,283 L669,351" class="l" stroke-width="1.0"/>
<path d="M669,296 L676,300 M669,330 L676,336" class="l" stroke-width="0.9"/>
<circle cx="673.6" cy="295.8" r="2.2" class="l"/>
<circle cx="672.7" cy="334" r="2.2" class="l"/>
<path d="M633,362 L665,352" class="l"/>
<circle cx="632.7" cy="301.6" r="1.6" fill="#333"/>
<path d="M691,229 Q695,226 698,231 L702,235 L715,242 L728,239 L739,245 L744,253 L749,260 L746,266 L744,275 L741,301 L746,305 L744,309 L735,315 L723,313 L722,301 L718,291 L705,279 L695,277 L688,271 L687,255 L689,241 L690,231 Z" fill="none" stroke="#333" stroke-width="2.6"/>
<path d="M691,229 Q695,226 698,231 L702,235 L715,242 L728,239 L739,245 L744,253 L749,260 L746,266 L744,275 L741,301 L746,305 L744,309 L735,315 L723,313 L722,301 L718,291 L705,279 L695,277 L688,271 L687,255 L689,241 L690,231 Z" fill="none" stroke="#ddd" stroke-width="0.8"/>
<ellipse cx="707" cy="261" rx="12" ry="16.5" transform="rotate(-10 707 261)" fill="none" stroke="#333" stroke-width="2.2"/>
<ellipse cx="707" cy="261" rx="12" ry="16.5" transform="rotate(-10 707 261)" fill="none" stroke="#ddd" stroke-width="0.6"/>
<ellipse cx="694" cy="233" rx="1.8" ry="2.4" class="l"/>
<ellipse cx="723" cy="249" rx="1.8" ry="2.4" class="l"/>
<ellipse cx="745" cy="261" rx="1.8" ry="2.4" class="l"/>
<ellipse cx="691" cy="270" rx="1.8" ry="2.4" class="l"/>
<ellipse cx="721" cy="286" rx="1.8" ry="2.4" class="l"/>
<ellipse cx="743" cy="305" rx="1.8" ry="2.4" class="l"/>
<path d="M728,244 L734,245 L734,298 L738,302 L737,309 L726,309 L725,302 L730,298 Z" fill="none" stroke="#333" stroke-width="1.8"/>
<path d="M728,244 L734,245 L734,298 L738,302 L737,309 L726,309 L725,302 L730,298 Z" fill="none" stroke="#ddd" stroke-width="0.5"/>
<g transform="translate(761,245) rotate(-20)"><rect x="-4" y="-3" width="8" height="6" rx="1.5" class="f"/><ellipse cx="-4" cy="0" rx="1.8" ry="3" class="f"/></g>
<g transform="translate(759,297) rotate(-20)"><rect x="-4" y="-3" width="8" height="6" rx="1.5" class="f"/><ellipse cx="-4" cy="0" rx="1.8" ry="3" class="f"/></g>
<path d="M688.75,174 Q690,170 696,171.5 L704,176 Q710,181 711.5,185.5 Q711,190 705,189.5 Q699,189 694.5,191.5 L659.4,237 Q657,238.5 655.5,236 L687.5,193.5 Q691,188 691,180 Q688.5,177 688.75,174 Z" class="f" stroke-width="1.3"/>
<path d="M690,178 Q698,182 708,189" class="l" stroke-width="1.0"/>
<path d="M687.5,193.5 L692,196" class="l" stroke-width="0.8"/>
<rect transform="translate(704.0,338.5) rotate(11.07)" x="0" y="-2.3" width="46.9" height="4.6" rx="2.0" class="f"/>
<path d="M744,345 Q750,345 753,340 L756,341 L754,357 L751,356 Q749,351 744,350.5 Z" class="f"/>
<ellipse cx="760" cy="350.3" rx="10" ry="11.7" transform="rotate(-15 760 350.3)" class="f"/>
<path d="M755,341 Q762,343 763,351 Q762,358 757,361" class="l" stroke-width="0.9"/>
<path d="M707,336.5 L707,341.5 M709.5,337 L709.5,342" stroke="#333" stroke-width="1.3"/>
<line x1="742.5" y1="343" x2="742.5" y2="348.5" class="l" stroke-width="1.1"/>
<line x1="730.5" y1="346.4" x2="730.5" y2="354.2" class="t"/>
<rect transform="translate(597.5,399.5) rotate(90.00)" x="0" y="-1.7" width="14.0" height="3.4" rx="1.2" class="d"/>
<rect transform="translate(622.5,398.0) rotate(90.00)" x="0" y="-1.7" width="14.0" height="3.4" rx="1.2" class="d"/>
<line x1="599" y1="405" x2="621" y2="403.5" class="t"/>
<line x1="624" y1="402" x2="629" y2="402" class="t" stroke="#222"/>
<g transform="translate(601.0,434.0) rotate(-19.89)">
<rect x="0" y="-1.8" width="75.0" height="3.6" rx="1" fill="#fff" stroke="#222" stroke-width="1.1"/>
<rect x="3.0" y="-3.0" width="2.5" height="6.0" fill="#fff" stroke="#222" stroke-width="1"/>
<polygon points="3.5,2.0 0.0,4.0 -3.5,2.0 -3.5,-2.0 -0.0,-4.0 3.5,-2.0" fill="#fff" stroke="#222" stroke-width="1.2"/>
<circle cx="0" cy="0" r="1.8" fill="none" stroke="#888" stroke-width="0.8"/>
</g>
<g transform="translate(604.0,474.4) rotate(-20.56)">
<rect x="0" y="-1.8" width="76.9" height="3.6" rx="1" fill="#fff" stroke="#222" stroke-width="1.1"/>
<rect x="3.0" y="-3.0" width="2.5" height="6.0" fill="#fff" stroke="#222" stroke-width="1"/>
<polygon points="3.5,2.0 0.0,4.0 -3.5,2.0 -3.5,-2.0 -0.0,-4.0 3.5,-2.0" fill="#fff" stroke="#222" stroke-width="1.2"/>
<circle cx="0" cy="0" r="1.8" fill="none" stroke="#888" stroke-width="0.8"/>
</g>
<path d="M662,412 L664,417 M665,411 L667,416 M668,410 L670,415 M666,451 L668,455 M669,450 L671,454 M672,449 L674,453" class="l" stroke-width="0.8"/>
<line x1="653.5" y1="416" x2="653.5" y2="424" class="t" stroke="#aaa"/>
<rect transform="translate(598.0,202.5) rotate(92.05)" x="0" y="-1.7" width="28.0" height="3.4" rx="1.2" class="d"/>
<rect transform="translate(622.3,211.8) rotate(92.88)" x="0" y="-1.7" width="25.8" height="3.4" rx="1.2" class="d"/>
<line x1="599.5" y1="217" x2="619.5" y2="225" class="t"/>
<path d="M601.6,172 Q601,168.5 606,169 L612,169.5 L632.6,177.7 Q639,181 638.8,186 Q638,191 634.7,191.1 L626.4,189.1 L610,183.9 L603.5,179 Q601.5,176 601.6,172 Z" class="f" stroke-width="1.4"/>
<ellipse cx="620.2" cy="180" rx="7.3" ry="4.2" transform="rotate(16 620.2 180)" class="f" stroke-width="1.3"/>
<circle cx="606.5" cy="172.8" r="1.5" class="l"/>
<circle cx="633.8" cy="187" r="1.6" class="l"/>
<line x1="575.8" y1="174.6" x2="601.6" y2="174.6" class="l"/>
<ellipse cx="617" cy="201" rx="9.2" ry="5.2" transform="rotate(8 617 201)" fill="none" stroke="#222" stroke-width="2.2"/>
<ellipse cx="617" cy="201" rx="9.2" ry="5.2" transform="rotate(8 617 201)" fill="none" stroke="#eee" stroke-width="0.6"/>
<line x1="579" y1="198.8" x2="608" y2="198.8" class="t" stroke="#333" stroke-width="1.1"/>
<path d="M580.6,86 L580.6,67.6 L622.5,67.6 L632,72 M580.6,88.2 L601.6,88.2 M578,76 L580.6,76" class="t" stroke="#444" stroke-width="1.0"/>
<path d="M621,93 Q617,100 615,108 L609,117 Q606,121 606.7,126 L607.5,136.5 Q609,142 613.5,144 L630,148.5 L643.5,148.5 L643.5,133 L639,127 L641,117 L645,109.5 L648,97.5 Q647,92 640,90 Z" class="f" stroke-width="1.3"/>
<path d="M609,118 L606,122 M608,126 L607,134" class="l" stroke-width="0.9"/>
<ellipse cx="634" cy="94" rx="14" ry="4.5" transform="rotate(12 634 94)" class="f"/>
<path d="M621,96 Q634,102 647,99" class="l" stroke-width="0.9"/>
<path d="M639,115.5 L651,116.5 L651,119.5 L639,119 Z" class="f"/>
<path d="M629.2,132 L643.5,132 L643.5,148.5 L629.2,148.5 Z" class="f"/>
<path d="M631.5,132 L632,126 L638,124.5 L640,132" class="l"/>
<path d="M643.5,133.5 L657,138 L657,130" class="t" stroke="#444" stroke-width="1"/>
<ellipse cx="648.5" cy="77.5" rx="15" ry="11" transform="rotate(12 648.5 77.5)" fill="#fff" stroke="#333" stroke-width="1.6"/>
<path d="M634,84 Q636,94 648,95 Q660,95 662,84" fill="none" stroke="#333" stroke-width="1.3"/>
<ellipse cx="645.5" cy="80.5" rx="14" ry="10.5" transform="rotate(12 645.5 80.5)" fill="#fff" stroke="#333" stroke-width="1.5"/>
<ellipse cx="645.5" cy="81" rx="11" ry="8" transform="rotate(12 645.5 81)" fill="#fff" stroke="#333" stroke-width="1.1"/>
<path d="M659,74 L662,80 M661,72 L663,79" class="l" stroke-width="0.8"/>
<g transform="translate(603.0,87.7) rotate(12.97)">
<rect x="0" y="-1.3" width="16.9" height="2.6" rx="1" fill="#fff" stroke="#222" stroke-width="1.1"/>
<line x1="5.8" y1="-1.3" x2="7.0" y2="1.3" stroke="#444" stroke-width="0.8"/>
<line x1="8.0" y1="-1.3" x2="9.2" y2="1.3" stroke="#444" stroke-width="0.8"/>
<line x1="10.2" y1="-1.3" x2="11.4" y2="1.3" stroke="#444" stroke-width="0.8"/>
<line x1="12.4" y1="-1.3" x2="13.6" y2="1.3" stroke="#444" stroke-width="0.8"/>
<line x1="14.6" y1="-1.3" x2="15.8" y2="1.3" stroke="#444" stroke-width="0.8"/>
<rect x="1.8" y="-2.5" width="2.5" height="5.0" fill="#fff" stroke="#222" stroke-width="1"/>
<polygon points="2.4,1.4 0.0,2.8 -2.4,1.4 -2.4,-1.4 -0.0,-2.8 2.4,-1.4" fill="#fff" stroke="#222" stroke-width="1.2"/>
<circle cx="0" cy="0" r="1.3" fill="none" stroke="#888" stroke-width="0.8"/>
</g>
<circle cx="599.6" cy="101.6" r="4.4" fill="#888" stroke="#333" stroke-width="1.2"/><circle cx="600" cy="101.2" r="2.2" fill="#bbb" stroke="#333" stroke-width="0.8"/>
<circle cx="657.7" cy="127" r="4" fill="#888" stroke="#333" stroke-width="1.2"/><circle cx="658" cy="126.7" r="2" fill="#bbb" stroke="#333" stroke-width="0.8"/>
<line x1="698.7" y1="85.1" x2="662.6" y2="120.2" class="l" stroke-width="1.1"/>

<!-- LABELS -->
<g id="labels" transform="translate(-0.5,-0.7)">
<text x="72" y="229">6</text>
<text x="128" y="449">1</text>
<text x="50" y="456.5">29</text>
<text class="r" x="245" y="435.7">35</text>
<text x="286" y="269">8</text>
<text x="295.5" y="315">23</text>
<text x="296" y="217.5">13</text>
<text x="349" y="218.5">12</text>
<text class="r" x="365" y="158">16</text>
<text class="r" x="380" y="208.5">15</text>
<text x="400.5" y="226">18</text>
<text x="438" y="242">17</text>
<text class="r" x="472" y="255.5">19</text>
<text x="505" y="243.5">20</text>
<text x="476.5" y="170.5">25</text>
<text x="438.5" y="283.5">11</text>
<text x="424.5" y="371">14</text>
<text x="402" y="417">24</text>
<text x="329" y="448">11</text>
<text x="332" y="487">12</text>
<text x="323.8" y="511">13</text>
<text x="550" y="411.5">20</text>
<text class="r" x="543.5" y="431.5">19</text>
<text x="527.5" y="458">17</text>
<text x="501" y="486">18</text>
<text class="r" x="482" y="509">15</text>
<text class="r" x="459.5" y="534">16</text>
<text x="559" y="83">4</text>
<text x="696.5" y="81">3</text>
<text class="r" x="556" y="179.5">32</text>
<text class="r" x="559" y="204.5">33</text>
<text class="r" x="581" y="226">5</text>
<text x="698.5" y="208.5">21</text>
<text x="767.5" y="247">26</text>
<text x="767" y="303">26</text>
<text x="649" y="378.5">2</text>
<text x="714.5" y="369.5">22</text>
<text class="r" x="629.5" y="405.7" style="font-size:13px;stroke-width:0.5">28</text>
<text x="655" y="435.5">27</text>
<text x="621.8" y="484.5">27</text>
</g>
</svg>
</body></html>
